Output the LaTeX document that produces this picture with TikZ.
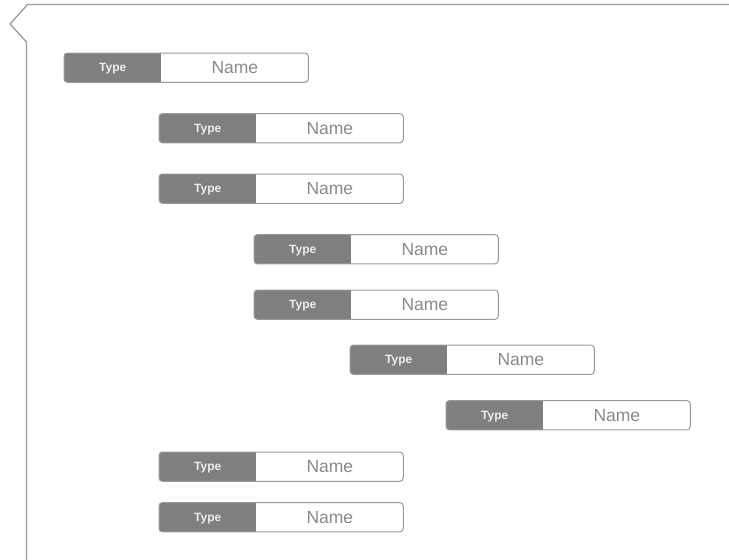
\documentclass[tikz,border=0pt]{standalone}
\usepackage{fontspec}
\setmainfont{Liberation Sans}
\usetikzlibrary{backgrounds}
\definecolor{typegray}{HTML}{7F7F7F}
\definecolor{linegray}{HTML}{9A9A9A}
\definecolor{namegray}{HTML}{8A8A8A}
\definecolor{typetext}{HTML}{EEEEEE}
\tikzset{
  typebox/.style={anchor=north west, minimum width=97pt, minimum height=29pt,
    inner sep=0pt, text depth=0pt, text=typetext,
    font=\fontsize{12}{14}\selectfont\bfseries},
  namebox/.style={anchor=west, minimum width=146.5pt, minimum height=29pt,
    inner sep=0pt, text=namegray, font=\fontsize{17.5}{20}\selectfont},
  outline/.style={draw=linegray, line width=1pt, rounded corners=3.5pt},
  frameline/.style={draw=linegray, line width=1.3pt, line join=round}
}
% one row: gray "Type" tab joined to a white "Name" field
\newcommand\typedfield[3]{%
  \node[typebox] (t#1) at (#2,-#3) {Type};
  \node[namebox] (n#1) at (t#1.east) {Name};
  \begin{scope}[on background layer]
    \fill[white, rounded corners=3.5pt] (t#1.north west) rectangle (n#1.south east);
    \begin{scope}
      \clip[rounded corners=3.5pt] (t#1.north west) rectangle (n#1.south east);
      \fill[typegray] (t#1.north west) rectangle (t#1.south east);
    \end{scope}
    \path[outline] (t#1.north west) rectangle (n#1.south east);
  \end{scope}}
\begin{document}
\begin{tikzpicture}[x=1pt,y=1pt]
\useasboundingbox (0,0) rectangle (729,-560);
% outer frame with the notched top-left corner
\coordinate (fa) at (729,-4.5);
\coordinate (fb) at (27.5,-4.5);
\coordinate (fc) at (10,-24);
\coordinate (fd) at (26.5,-42);
\coordinate (fe) at (26.5,-562);
\path[frameline] (fa) -- (fb) -- (fc) -- (fd) -- (fe);
% rows
\typedfield{1}{64}{53}
\typedfield{2}{159}{113.5}
\typedfield{3}{159}{174}
\typedfield{4}{254}{234.5}
\typedfield{5}{254}{290}
\typedfield{6}{350}{345}
\typedfield{7}{446}{400.5}
\typedfield{8}{159}{452}
\typedfield{9}{159}{502.5}
\end{tikzpicture}
\end{document}
